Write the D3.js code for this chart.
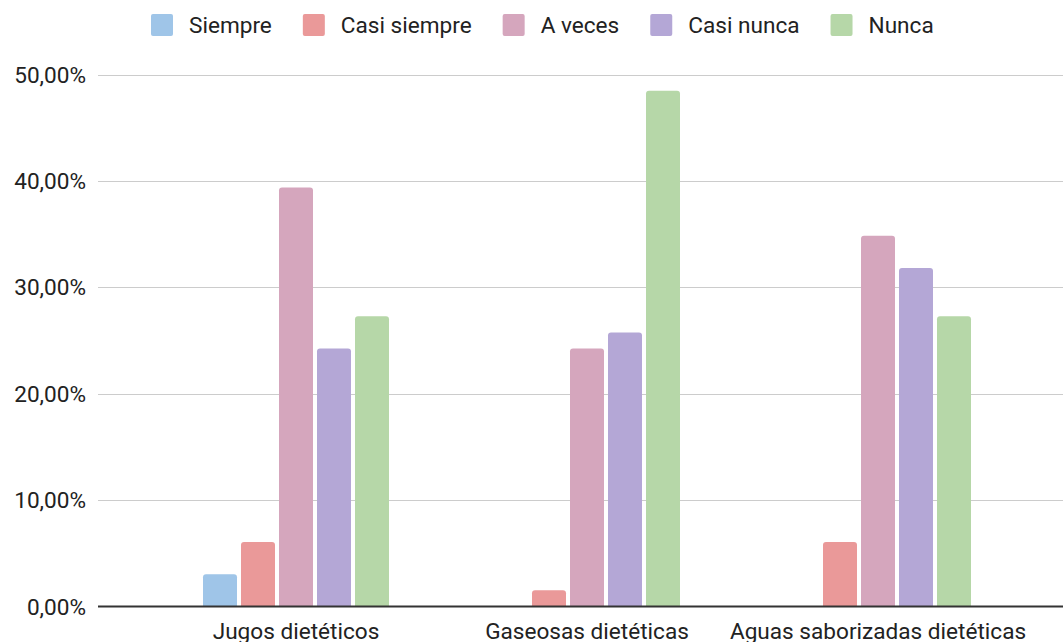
<!DOCTYPE html>
<html>
<head>
<meta charset="utf-8">
<script src="https://cdn.jsdelivr.net/npm/d3@7"></script>
<style>
  html, body { margin: 0; padding: 0; background: #fff; }
  svg { display: block; font-family: Roboto, "Liberation Sans", Arial, sans-serif; }
</style>
</head>
<body>
<svg id="chart" width="1063" height="642"></svg>
<script>
const categories = ["Jugos dietéticos", "Gaseosas dietéticas", "Aguas saborizadas dietéticas"];
const seriesNames = ["Siempre", "Casi siempre", "A veces", "Casi nunca", "Nunca"];
const siempre     = [3.03, 0, 0];
const casiSiempre = [6.06, 1.52, 6.06];
const aVeces      = [39.39, 24.24, 34.85];
const casiNunca   = [24.24, 25.76, 31.82];
const nunca       = [27.27, 48.48, 27.27];
const yTicks      = [0, 10, 20, 30, 40, 50];
const seriesColors = ["#9fc5e8", "#ea9999", "#d5a6bd", "#b4a7d6", "#b6d7a8"];

const seriesValues = [siempre, casiSiempre, aVeces, casiNunca, nunca];

const FS = 22.6;
const svg = d3.select("#chart");
const plotLeft = 98, plotRight = 1063;

const y = d3.scaleLinear().domain([0, 50]).range([606.5, 74.5]);
const x0 = d3.scaleBand().domain(categories).range([150.5, 1023.5]).padding(0);
const groupWidth = 186;
const x1 = d3.scaleBand().domain(seriesNames).range([0, groupWidth]).paddingInner(4 / 38).paddingOuter(0);

const fmt = v => v.toFixed(2).replace(".", ",") + "%";

// gridlines
svg.append("g").selectAll("line").data(yTicks.filter(t => t !== 0)).join("line")
  .attr("x1", plotLeft).attr("x2", plotRight)
  .attr("y1", d => Math.round(y(d)) + 0.5).attr("y2", d => Math.round(y(d)) + 0.5)
  .attr("stroke", "#cccccc").attr("stroke-width", 1);

// y labels
svg.append("g").selectAll("text").data(yTicks).join("text")
  .attr("x", 86).attr("y", d => y(d))
  .attr("dy", "0.36em")
  .attr("text-anchor", "end")
  .attr("font-size", FS)
  .attr("fill", "#222")
  .text(fmt);

// bars
function barPath(x, yTop, w, h, r) {
  r = Math.min(r, h, w / 2);
  const yb = yTop + h;
  return `M${x},${yb} L${x},${yTop + r} Q${x},${yTop} ${x + r},${yTop} L${x + w - r},${yTop} Q${x + w},${yTop} ${x + w},${yTop + r} L${x + w},${yb} Z`;
}

const barData = [];
categories.forEach((c, ci) => {
  seriesNames.forEach((s, si) => {
    const v = seriesValues[si][ci];
    if (v > 0) barData.push({ c, s, v, color: seriesColors[si] });
  });
});

svg.append("g").selectAll("path").data(barData).join("path")
  .attr("d", d => {
    const gx = x0(d.c) + (x0.bandwidth() - groupWidth) / 2;
    const bx = gx + x1(d.s);
    const top = y(d.v);
    return barPath(bx, top, x1.bandwidth(), y(0) - top, 3);
  })
  .attr("fill", d => d.color);

// baseline
svg.append("line")
  .attr("x1", plotLeft).attr("x2", plotRight)
  .attr("y1", y(0)).attr("y2", y(0))
  .attr("stroke", "#333333").attr("stroke-width", 2);

// x labels
const xAxis = d3.axisBottom(x0).tickSize(0).tickPadding(0);
const gx = svg.append("g").attr("transform", `translate(0,${y(0)})`).call(xAxis);
gx.select(".domain").remove();
gx.selectAll("text")
  .attr("y", 32.5).attr("dy", null)
  .attr("font-size", FS)
  .attr("font-family", "Roboto, 'Liberation Sans', Arial, sans-serif")
  .attr("fill", "#222");

// legend
const legend = svg.append("g");
let lx = 151;
seriesNames.forEach((s, i) => {
  const g = legend.append("g");
  g.append("rect").attr("x", lx).attr("y", 14).attr("width", 22).attr("height", 22)
    .attr("rx", 2).attr("fill", seriesColors[i]);
  const t = g.append("text").attr("x", lx + 38).attr("y", 25).attr("dy", "0.36em")
    .attr("font-size", FS).attr("fill", "#222").text(s);
  lx += 38 + t.node().getComputedTextLength() + 31;
});
</script>
</body>
</html>
